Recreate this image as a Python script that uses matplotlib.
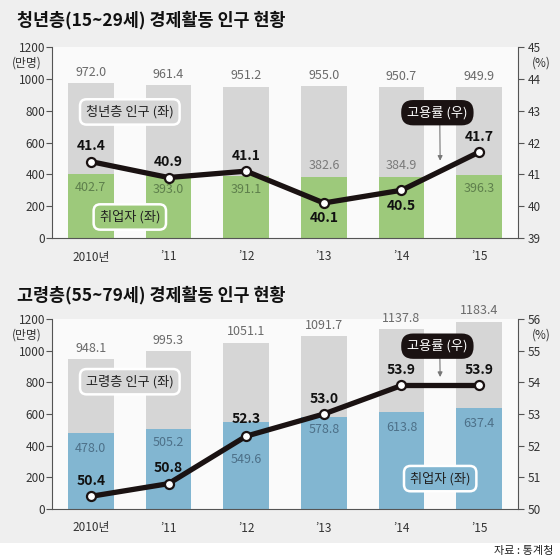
import numpy as np
import matplotlib.pyplot as plt
from matplotlib.patches import Rectangle

plt.rcParams['font.family'] = ['Noto Sans CJK KR', 'DejaVu Sans']

# 데이터
years = ['2010년', '’11', '’12', '’13', '’14', '’15']

young_pop = [972.0, 961.4, 951.2, 955.0, 950.7, 949.9]
young_emp = [402.7, 393.0, 391.1, 382.6, 384.9, 396.3]
young_rate = [41.4, 40.9, 41.1, 40.1, 40.5, 41.7]

old_pop = [948.1, 995.3, 1051.1, 1091.7, 1137.8, 1183.4]
old_emp = [478.0, 505.2, 549.6, 578.8, 613.8, 637.4]
old_rate = [50.4, 50.8, 52.3, 53.0, 53.9, 53.9]

left_ticks = [0, 200, 400, 600, 800, 1000, 1200]
young_right_ticks = [39, 40, 41, 42, 43, 44, 45]
old_right_ticks = [50, 51, 52, 53, 54, 55, 56]

# 레이블 위치 (포인트 단위 오프셋)
young_emp_dy = [-10, -10, -10, 8, 8, -10]
young_rate_dy = [11, 11, 11, -11, -11, 11]
old_emp_dy = [-11, -10, -27, -9, -11, -11]
old_rate_dy = [11, 11, 12, 11, 11, 11]

BG = '#efefef'
BAR_GRAY = '#d6d6d6'
TXT = '#333333'

fig = plt.figure(figsize=(5.6, 5.6), dpi=100, facecolor='white')
fig.patches.append(Rectangle((0, 1 - 543 / 560), 1, 543 / 560, transform=fig.transFigure,
                             facecolor=BG, edgecolor='none', zorder=-10))


def panel(rect, title, pop, emp, rate, rticks, emp_color, emp_txt, emp_dy, rate_dy,
          pop_box, pop_xy, emp_xy, rate_xy, arrow_to, title_dy):
    ax = fig.add_axes(rect)
    ax.set_facecolor('#fafafa')
    x = np.arange(len(years))
    ax.bar(x, pop, width=0.59, color=BAR_GRAY, zorder=1)
    ax.bar(x, emp, width=0.59, color=emp_color, zorder=2)
    ax.set_xlim(-0.5, 5.5)
    ax.set_ylim(0, 1200)
    ax.set_yticks(left_ticks)
    ax.set_xticks(x)
    ax.set_xticklabels(years)
    for s in ['top', 'right']:
        ax.spines[s].set_visible(False)
    ax.spines['left'].set_color('#555555')
    ax.spines['bottom'].set_color('#555555')
    ax.tick_params(axis='y', length=4, color='#555555', labelsize=8.5, labelcolor=TXT, pad=1)
    ax.tick_params(axis='x', length=0, labelsize=8.5, labelcolor=TXT, pad=9)
    ax.text(-0.022, 0.918, '(만명)', transform=ax.transAxes, ha='right', va='center',
            fontsize=8.5, color=TXT)

    for i in range(len(years)):
        ax.annotate(f'{pop[i]:.1f}', (x[i], pop[i]), xytext=(0, 3), textcoords='offset points',
                    ha='center', va='bottom', fontsize=9, color='#6a6a6a')
        c = emp_txt if emp_dy[i] < 0 else '#7a7a7a'
        ax.annotate(f'{emp[i]:.1f}', (x[i], emp[i]), xytext=(0, emp_dy[i]),
                    textcoords='offset points', ha='center', va='center', fontsize=9, color=c,
                    zorder=3)

    ax2 = ax.twinx()
    ax2.set_ylim(rticks[0], rticks[-1])
    ax2.set_yticks(rticks)
    for s in ['top', 'left', 'bottom']:
        ax2.spines[s].set_visible(False)
    ax2.spines['right'].set_color('#555555')
    ax2.tick_params(axis='y', length=4, color='#555555', labelsize=8.5, labelcolor=TXT, pad=3)
    ax2.text(1.03, 0.918, '(%)', transform=ax2.transAxes, ha='left', va='center',
             fontsize=8.5, color=TXT)
    ax2.plot(x, rate, color='#1a1212', lw=3.8, marker='o', ms=6.5, mfc='white', mec='#1a1212',
             mew=1.6, zorder=5, solid_capstyle='round')
    for i in range(len(years)):
        ax2.annotate(f'{rate[i]:.1f}', (x[i], rate[i]), xytext=(0, rate_dy[i]),
                     textcoords='offset points', ha='center', va='center', fontsize=10,
                     fontweight='bold', color='#111111')

    # 범례 상자
    ax2.text(pop_xy[0], pop_xy[1], pop_box, transform=ax2.transAxes, ha='center', va='center',
             fontsize=9.5, color='#222222',
             bbox=dict(boxstyle='round,pad=0.45,rounding_size=0.5', fc=BAR_GRAY, ec='white', lw=1.8))
    ax2.text(emp_xy[0], emp_xy[1], '취업자 (좌)', transform=ax2.transAxes, ha='center',
             va='center', fontsize=9.5, color='#222222',
             bbox=dict(boxstyle='round,pad=0.45,rounding_size=0.5', fc=emp_color, ec='white', lw=1.8))
    ax2.annotate('', xy=arrow_to, xycoords='axes fraction', xytext=(rate_xy[0] + 0.005, rate_xy[1]),
                 textcoords='axes fraction',
                 arrowprops=dict(arrowstyle='-|>', color='#777777', lw=0.8, mutation_scale=7))
    ax2.text(rate_xy[0], rate_xy[1], '고용률 (우)', transform=ax2.transAxes, ha='center',
             va='center', fontsize=9.5, color='white', zorder=6,
             bbox=dict(boxstyle='round,pad=0.45,rounding_size=0.9', fc='#1a1212', ec='none'))

    fig.text(17 / 560, rect[1] + rect[3] + title_dy, title, ha='left', va='center', fontsize=12.5,
             fontweight='bold', color='#111111')
    return ax


panel([52 / 560, 1 - 238 / 560, 466 / 560, 191 / 560], '청년층(15~29세) 경제활동 인구 현황',
      young_pop, young_emp, young_rate, young_right_ticks, '#9dc97b', '#5e7f4c',
      young_emp_dy, young_rate_dy, '청년층 인구 (좌)', (0.167, 0.66), (0.167, 0.11),
      (0.827, 0.656), (0.833, 0.39), 27 / 560)

panel([52 / 560, 1 - 509 / 560, 466 / 560, 190 / 560], '고령층(55~79세) 경제활동 인구 현황',
      old_pop, old_emp, old_rate, old_right_ticks, '#82b6d1', '#4d7088',
      old_emp_dy, old_rate_dy, '고령층 인구 (좌)', (0.167, 0.67), (0.833, 0.16),
      (0.827, 0.857), (0.833, 0.68), 24 / 560)

fig.text(553 / 560, 1 - 551 / 560, '자료 : 통계청', ha='right', va='center', fontsize=8, color='#222222')

fig.savefig('out.png', dpi=100, facecolor=fig.get_facecolor())
